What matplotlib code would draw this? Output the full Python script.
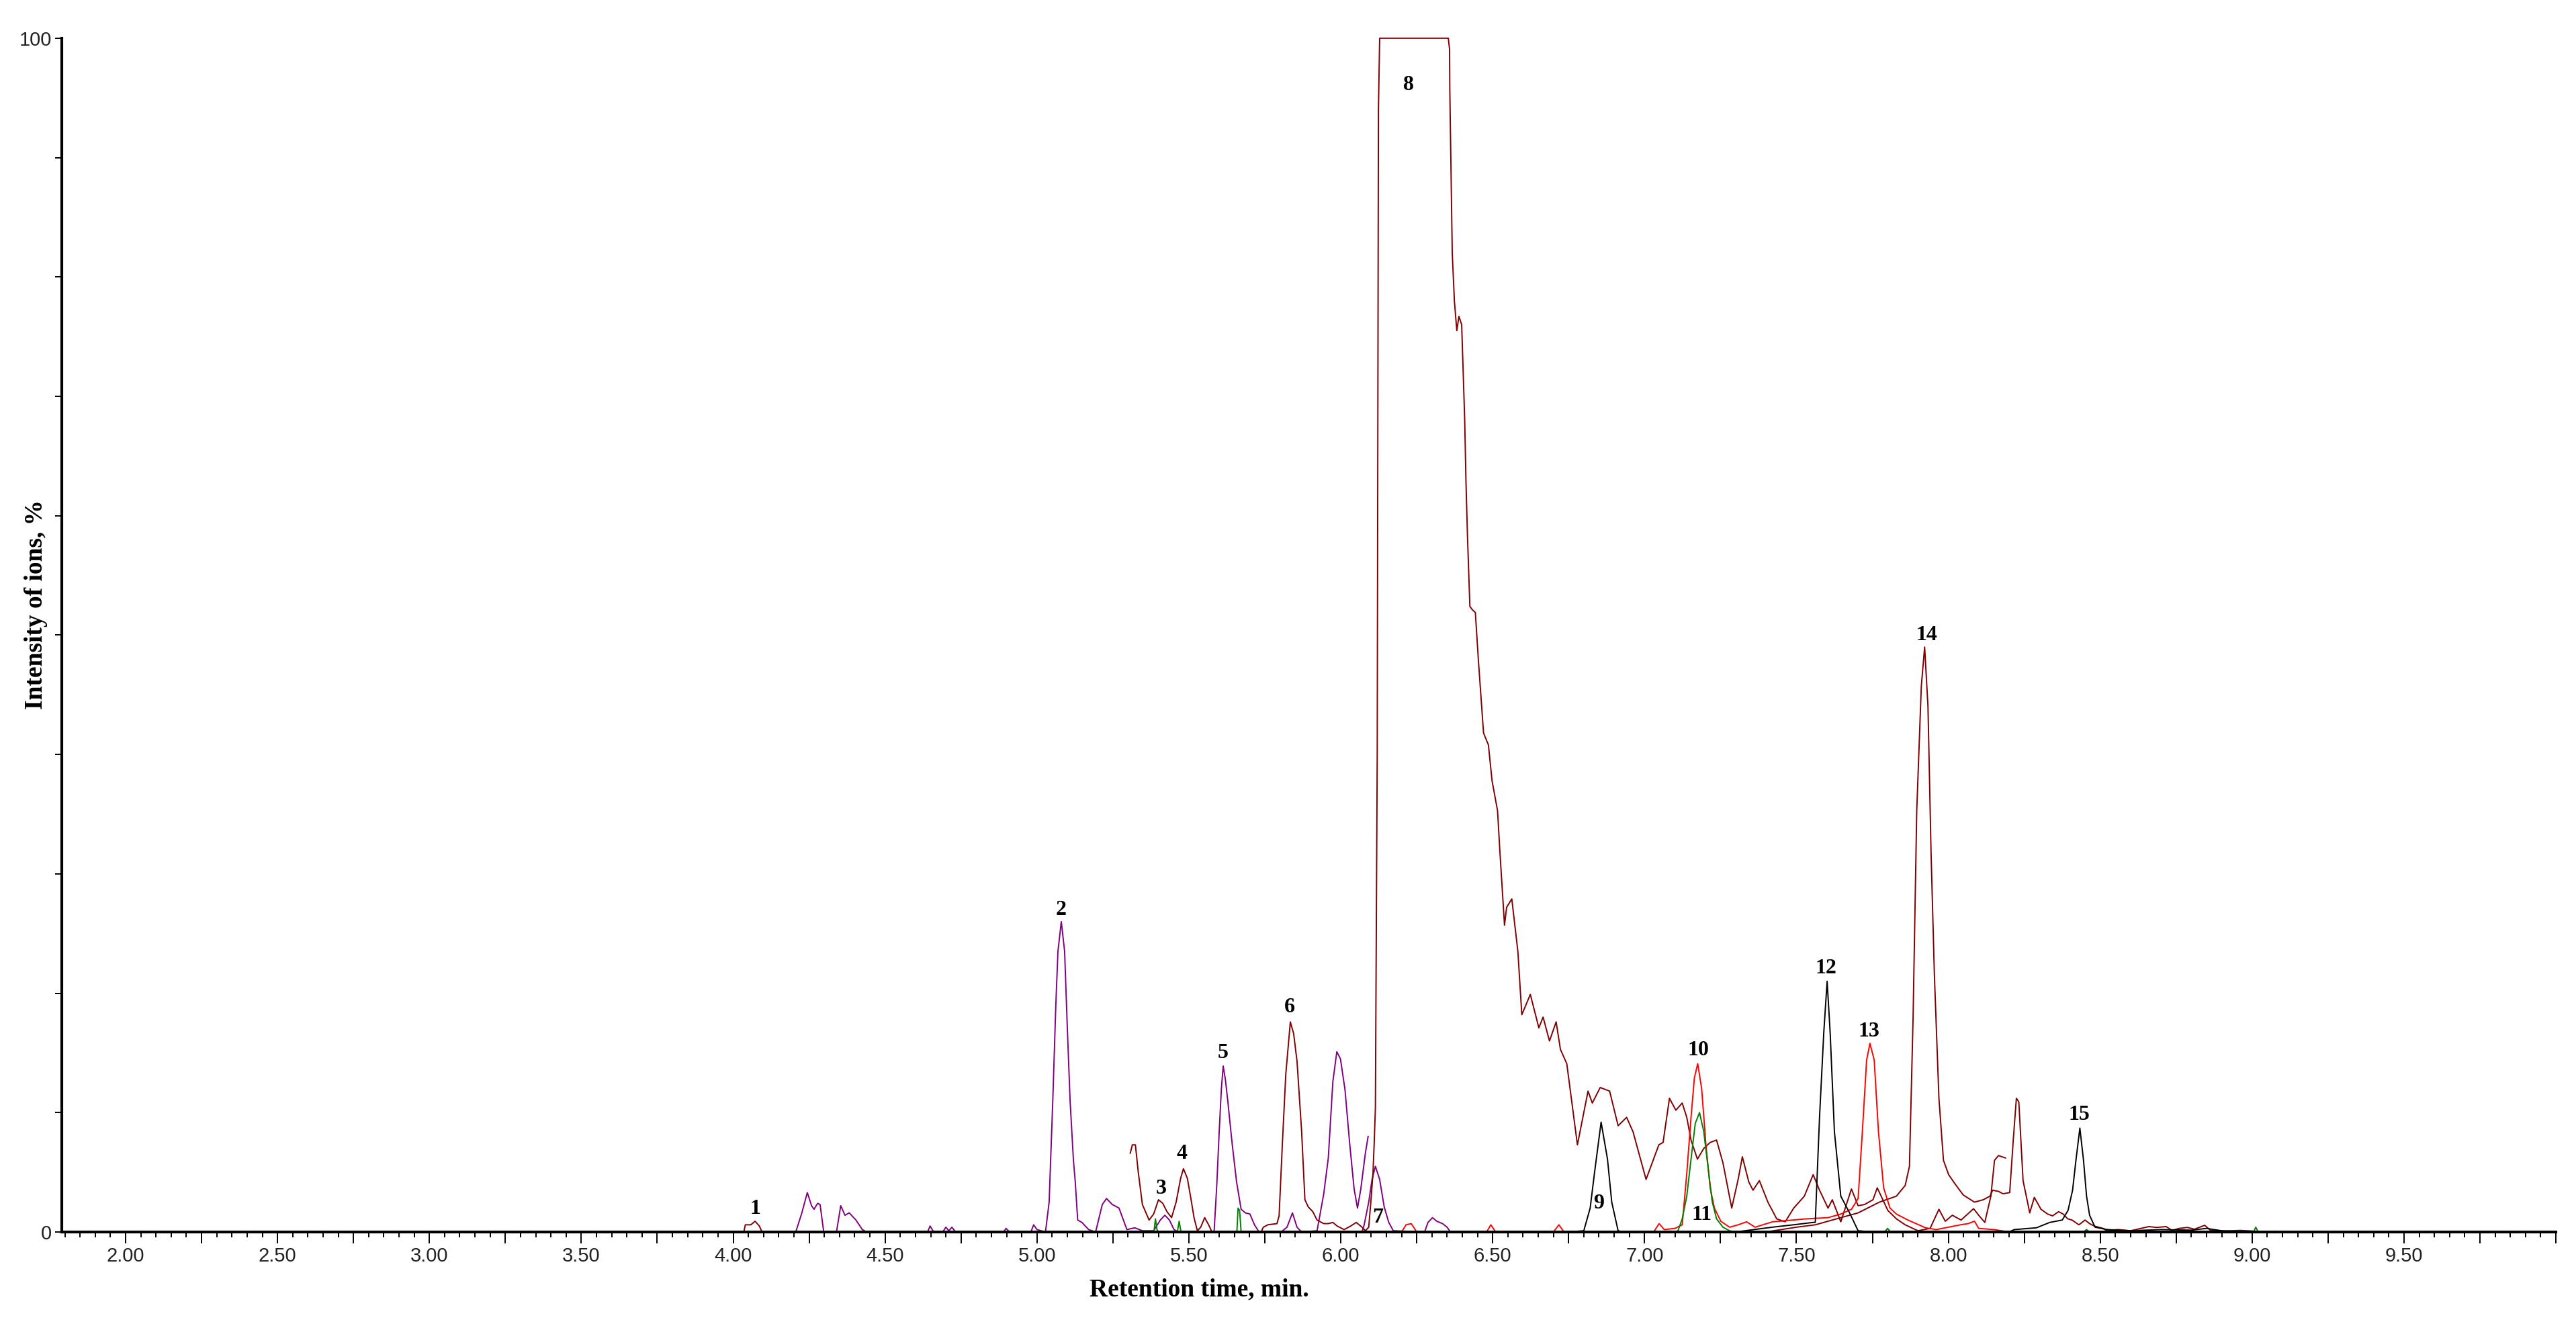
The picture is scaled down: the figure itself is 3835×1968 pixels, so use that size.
import matplotlib
matplotlib.use("Agg")
import matplotlib.pyplot as plt
from matplotlib.ticker import MultipleLocator, FuncFormatter

#==========================================
# MRM chromatogram, 15 numbered peaks
# retention time [min] vs relative intensity [%]
#==========================================

# maroon trace, early window (peak 1)
maroon_a_t = [1.79, 4.035, 4.040, 4.058, 4.072, 4.086, 4.095, 4.20]
maroon_a_y = [0, 0, 0.6, 0.6, 0.9, 0.5, 0, 0]

# maroon trace, peaks 3, 4, 6 and the saturated peak 8 with its tail
maroon_b_t = [5.307, 5.314, 5.324, 5.333, 5.347, 5.369, 5.384, 5.400, 5.414, 5.428,
              5.443, 5.458, 5.473, 5.482, 5.495, 5.506, 5.517, 5.528, 5.539, 5.552,
              5.565, 5.576, 5.738, 5.745, 5.760, 5.790, 5.797, 5.808, 5.819, 5.834,
              5.845, 5.856, 5.871, 5.882, 5.893, 5.908, 5.922, 5.944, 5.959, 5.974,
              5.988, 6.011, 6.033, 6.051, 6.070, 6.081, 6.092, 6.099, 6.106, 6.110,
              6.114, 6.120, 6.124, 6.128, 6.354, 6.358, 6.359, 6.363, 6.367, 6.374,
              6.382, 6.389, 6.398, 6.408, 6.412, 6.417, 6.425, 6.434, 6.443, 6.453,
              6.470, 6.486, 6.498, 6.516, 6.524, 6.539, 6.546, 6.563, 6.583, 6.596,
              6.624, 6.652, 6.666, 6.687, 6.709, 6.723, 6.744, 6.779, 6.814, 6.828,
              6.854, 6.885, 6.913, 6.941, 6.962, 7.005, 7.047, 7.061, 7.082, 7.103,
              7.124, 7.139, 7.153, 7.174, 7.195, 7.216, 7.237, 7.258, 7.287, 7.308,
              7.322, 7.343, 7.357, 7.378, 7.406, 7.435, 7.463, 7.491, 7.526, 7.555,
              7.576, 7.604, 7.618, 7.646, 7.681, 7.703, 7.724, 7.752, 7.766, 7.801,
              7.829, 7.858, 7.900, 7.940, 7.969, 7.990, 8.013, 8.042, 8.083, 8.100,
              8.120, 8.140, 8.152, 8.165, 8.188]
maroon_b_y = [6.6, 7.3, 7.3, 5.1, 2.3, 1.0, 1.5, 2.7, 2.4, 1.7,
              1.2, 2.5, 4.5, 5.3, 4.5, 2.9, 1.2, 0.1, 0.4, 1.2,
              0.6, 0, 0, 0.4, 0.6, 0.7, 1.35, 7.5, 13.2, 17.6,
              16.6, 14.3, 8.5, 2.7, 2.1, 1.7, 1.0, 0.7, 0.7, 0.8,
              0.5, 0.2, 0.5, 0.8, 0.4, 0.1, 0.4, 2.5, 4.9, 7.4,
              10.4, 40, 94, 100, 100, 99.1, 95.6, 88.6, 82.0, 78.0,
              75.5, 76.7, 76.0, 68.0, 63.0, 58.4, 52.4, 52.1, 51.9, 47.9,
              41.8, 40.8, 37.8, 35.3, 31.8, 25.7, 27.2, 27.9, 23.5, 18.2,
              19.9, 17.1, 18.0, 16.0, 17.6, 15.3, 14.1, 7.3, 11.8, 10.8,
              12.1, 11.8, 8.9, 9.6, 8.4, 4.4, 7.3, 7.5, 11.2, 10.2,
              10.8, 9.6, 7.7, 6.1, 7.0, 7.5, 7.7, 5.8, 2.0, 4.4,
              6.3, 4.2, 3.5, 4.3, 2.5, 1.1, 0.85, 2.0, 3.0, 4.8,
              3.5, 2.0, 2.7, 0.85, 3.6, 2.2, 2.3, 2.7, 3.7, 1.8,
              1.1, 0.6, 0.1, 0.3, 1.9, 0.9, 1.4, 1.0, 1.95, 1.4,
              0.8, 3.0, 6.0, 6.4, 6.2]

# maroon trace, peak 14 and the 8.22 min peak
maroon_c_t = [7.40, 7.45, 7.50, 7.562, 7.632, 7.703, 7.773, 7.829, 7.858, 7.872,
              7.884, 7.896, 7.911, 7.922, 7.933, 7.943, 7.954, 7.969, 7.984, 8.001,
              8.020, 8.049, 8.086, 8.115, 8.137, 8.146, 8.165, 8.180, 8.202, 8.214,
              8.224, 8.232, 8.246, 8.268, 8.283, 8.305, 8.327, 8.343, 8.363, 8.378,
              8.393, 8.407, 8.430, 8.450, 8.465, 8.480, 8.509, 8.520, 8.560, 8.600,
              8.660, 8.685, 8.717, 8.736, 8.760, 8.787, 8.810, 8.844, 8.863, 8.910,
              8.960, 9.000, 9.020]
maroon_c_y = [0, 0.2, 0.4, 0.6, 1.1, 1.6, 2.5, 3.0, 3.9, 5.5,
              18.0, 35.3, 45.7, 49.0, 44.0, 31.9, 21.6, 11.2, 6.0, 4.8,
              4.1, 3.1, 2.5, 2.7, 3.0, 3.5, 3.4, 3.2, 3.3, 7.8,
              11.2, 10.9, 4.3, 1.6, 2.9, 1.9, 1.5, 1.35, 1.7, 1.5,
              1.1, 1.0, 0.6, 1.0, 0.7, 0.5, 0.3, 0.13, 0.2, 0.1,
              0.45, 0.38, 0.45, 0.13, 0.3, 0.38, 0.23, 0.56, 0.13, 0.08,
              0.13, 0.08, 0]

# purple trace, peaks 2 and 5
purple_a_t = [4.200, 4.206, 4.226, 4.244, 4.258, 4.266, 4.278, 4.286, 4.298, 4.340,
              4.354, 4.368, 4.382, 4.404, 4.425, 4.439, 4.640, 4.648, 4.660, 4.690,
              4.700, 4.710, 4.720, 4.732, 4.890, 4.898, 4.910, 4.980, 4.989, 5.000,
              5.028, 5.040, 5.052, 5.062, 5.069, 5.080, 5.091, 5.100, 5.109, 5.120,
              5.126, 5.134, 5.148, 5.170, 5.193, 5.215, 5.229, 5.248, 5.270, 5.296,
              5.322, 5.347, 5.384, 5.406, 5.421, 5.436, 5.451, 5.465, 5.583, 5.592,
              5.600, 5.607, 5.613, 5.620, 5.628, 5.642, 5.657, 5.672, 5.686, 5.701,
              5.716, 5.731, 5.804, 5.823, 5.841, 5.856, 5.871, 5.922, 5.944, 5.959,
              5.974, 5.987, 5.999, 6.014, 6.029, 6.044, 6.055, 6.066, 6.081, 6.090]
purple_a_y = [0, 0, 1.6, 3.3, 2.2, 1.9, 2.4, 2.3, 0, 0,
              2.2, 1.4, 1.6, 1.0, 0.2, 0, 0, 0.5, 0, 0,
              0.4, 0.1, 0.4, 0, 0, 0.3, 0, 0, 0.6, 0.2,
              0, 2.5, 11, 19, 23.5, 26, 23.5, 17, 11, 6,
              4.2, 1.0, 0.8, 0.2, 0, 2.3, 2.8, 2.3, 2.0, 0.2,
              0.35, 0.1, 0.1, 1.0, 1.4, 1.0, 0.2, 0, 0, 4,
              8.5, 12, 13.9, 12.8, 11.0, 7.5, 4.2, 1.9, 1.6, 1.5,
              0.6, 0, 0, 0.4, 1.6, 0.4, 0, 0.1, 3.2, 6.2,
              12.6, 15.1, 14.5, 11.9, 7.5, 3.6, 2.0, 3.6, 6.6, 8.0]

# purple trace, peak 7
purple_b_t = [6.070, 6.077, 6.092, 6.103, 6.114, 6.128, 6.143, 6.158, 6.173, 6.276,
              6.287, 6.302, 6.316, 6.335, 6.350, 6.361, 6.720]
purple_b_y = [0, 0.6, 2.5, 4.4, 5.5, 4.4, 2.1, 0.8, 0.1, 0,
              0.8, 1.2, 0.9, 0.7, 0.4, 0, 0]

# green trace, peak 11
green_t = [4.80, 5.385, 5.390, 5.395, 5.400, 5.462, 5.468, 5.474, 5.658, 5.662,
           5.667, 5.672, 7.100, 7.110, 7.124, 7.139, 7.153, 7.167, 7.181, 7.195,
           7.209, 7.223, 7.237, 7.258, 7.280, 7.300, 7.790, 7.800, 7.810, 8.445,
           8.455, 8.465, 9.005, 9.012, 9.020, 9.050]
green_y = [0, 0, 1.1, 0.2, 0, 0, 0.9, 0, 0, 2.0,
           1.8, 0, 0, 0.1, 1.1, 3.0, 6.1, 9.1, 10.0, 8.4,
           5.4, 2.5, 1.1, 0.4, 0.1, 0, 0, 0.3, 0, 0,
           0.2, 0, 0, 0.4, 0, 0]

# red trace, peaks 10 and 13
red_t = [6.150, 6.200, 6.215, 6.232, 6.250, 6.480, 6.494, 6.510, 6.700, 6.718,
         6.735, 7.030, 7.048, 7.065, 7.100, 7.124, 7.139, 7.153, 7.164, 7.175,
         7.188, 7.202, 7.216, 7.230, 7.251, 7.280, 7.308, 7.336, 7.364, 7.421,
         7.533, 7.604, 7.646, 7.681, 7.703, 7.717, 7.731, 7.742, 7.756, 7.770,
         7.787, 7.808, 7.829, 7.867, 7.925, 7.960, 8.040, 8.065, 8.086, 8.100,
         8.150, 8.200]
red_y = [0, 0, 0.6, 0.7, 0, 0, 0.6, 0, 0, 0.6,
         0, 0, 0.7, 0.2, 0.3, 0.6, 4.9, 9.6, 12.9, 14.1,
         12.0, 7.3, 3.7, 2.0, 0.9, 0.4, 0.6, 0.85, 0.4, 0.85,
         1.1, 1.2, 1.5, 1.9, 2.8, 8.4, 14.4, 15.8, 14.4, 8.4,
         3.7, 2.0, 1.5, 1.0, 0.35, 0.2, 0.6, 0.7, 0.9, 0.3,
         0.2, 0]

# black trace, peaks 9, 12 and 15
black_t = [6.750, 6.800, 6.821, 6.835, 6.857, 6.878, 6.892, 6.913, 6.930, 7.300,
           7.420, 7.490, 7.555, 7.562, 7.576, 7.590, 7.601, 7.611, 7.625, 7.646,
           7.675, 7.703, 7.750, 8.200, 8.217, 8.290, 8.334, 8.375, 8.394, 8.409,
           8.420, 8.433, 8.445, 8.455, 8.465, 8.483, 8.524, 8.600, 8.700, 8.800,
           8.850, 8.900, 9.000, 9.050]
black_y = [0, 0.1, 2.0, 4.9, 9.2, 6.1, 2.5, 0.1, 0, 0,
           0.4, 0.6, 0.8, 0.8, 9.6, 16.7, 21.0, 16.7, 8.4, 3.0,
           1.6, 0.1, 0, 0, 0.2, 0.35, 0.8, 1.0, 1.8, 3.5,
           6.0, 8.7, 6.0, 3.0, 1.4, 0.4, 0.2, 0.1, 0.2, 0.15,
           0.3, 0.1, 0, 0]

# peak numbers and where they are written
peak_ids = ["1", "2", "3", "4", "5", "6", "7", "8", "9", "10", "11", "12", "13", "14", "15"]
peak_label_t = [4.072, 5.080, 5.409, 5.478, 5.613, 5.832, 6.121, 6.224, 6.849, 7.178,
                7.188, 7.598, 7.739, 7.928, 8.431]
peak_label_y = [1.95, 27.0, 3.65, 6.55, 15.0, 18.8, 1.2, 96.1, 2.4, 15.2,
                1.45, 22.1, 16.8, 50.0, 9.8]

MAROON = "#800000"
PURPLE = "#800080"
RED = "#FF0000"
GREEN = "#008000"
BLACK = "#000000"


def x_label(v, pos):
    # only the half-minute marks carry a number, and the axis stops before 10
    if abs(v * 2 - round(v * 2)) < 1e-6 and v < 9.9:
        return f"{v:.2f}"
    return ""


def main():
    fig = plt.figure(figsize=(38.35, 19.68), dpi=100)
    ax = fig.add_axes([0.024, 0.0681, 0.9682, 0.903])

    traces = [
        (maroon_a_t, maroon_a_y, MAROON),
        (purple_a_t, purple_a_y, PURPLE),
        (purple_b_t, purple_b_y, PURPLE),
        (maroon_b_t, maroon_b_y, MAROON),
        (maroon_c_t, maroon_c_y, MAROON),
        (red_t, red_y, RED),
        (green_t, green_y, GREEN),
        (black_t, black_y, BLACK),
    ]
    for t, y, c in traces:
        ax.plot(t, y, color=c, lw=1.4, clip_on=False, zorder=2)

    for lab, t, y in zip(peak_ids, peak_label_t, peak_label_y):
        ax.text(t, y, lab, ha="center", va="center", fontsize=23,
                fontweight="bold", family="Liberation Serif", zorder=4)

    ax.set_xlim(1.79, 10.0)
    ax.set_ylim(0, 100)

    for s in ("top", "right"):
        ax.spines[s].set_visible(False)
    for s in ("left", "bottom"):
        ax.spines[s].set_linewidth(3)
        ax.spines[s].set_color("black")
        ax.spines[s].set_zorder(3)

    # x: labels every 0.5 min, long ticks every 0.25, short every 0.05
    ax.xaxis.set_major_locator(MultipleLocator(0.25))
    ax.xaxis.set_minor_locator(MultipleLocator(0.05))
    ax.xaxis.set_major_formatter(FuncFormatter(x_label))
    ax.yaxis.set_major_locator(MultipleLocator(10))
    ax.yaxis.set_major_formatter(FuncFormatter(
        lambda v, p: f"{v:.0f}" if v in (0, 100) else ""))

    ax.tick_params(axis="x", which="major", length=12, width=1.4, pad=4,
                   labelsize=21, labelcolor="#222222")
    ax.tick_params(axis="x", which="minor", length=6, width=1.4)
    ax.tick_params(axis="y", which="major", length=7, width=1.4, pad=4,
                   labelsize=21, labelcolor="#222222")
    for lbl in ax.get_xticklabels() + ax.get_yticklabels():
        lbl.set_family("Liberation Sans")

    fig.text(1785 / 3835, 1 - 1920 / 1968, "Retention time, min.", ha="center", va="center",
             fontsize=27, fontweight="bold", family="Liberation Serif")
    fig.text(54 / 3835, 1 - 900 / 1968, "Intensity of ions, %", ha="center", va="center",
             rotation=90, fontsize=27, fontweight="bold", family="Liberation Serif")

    fig.savefig("out.png", dpi=100, facecolor="white")


if __name__ == "__main__":
    main()
